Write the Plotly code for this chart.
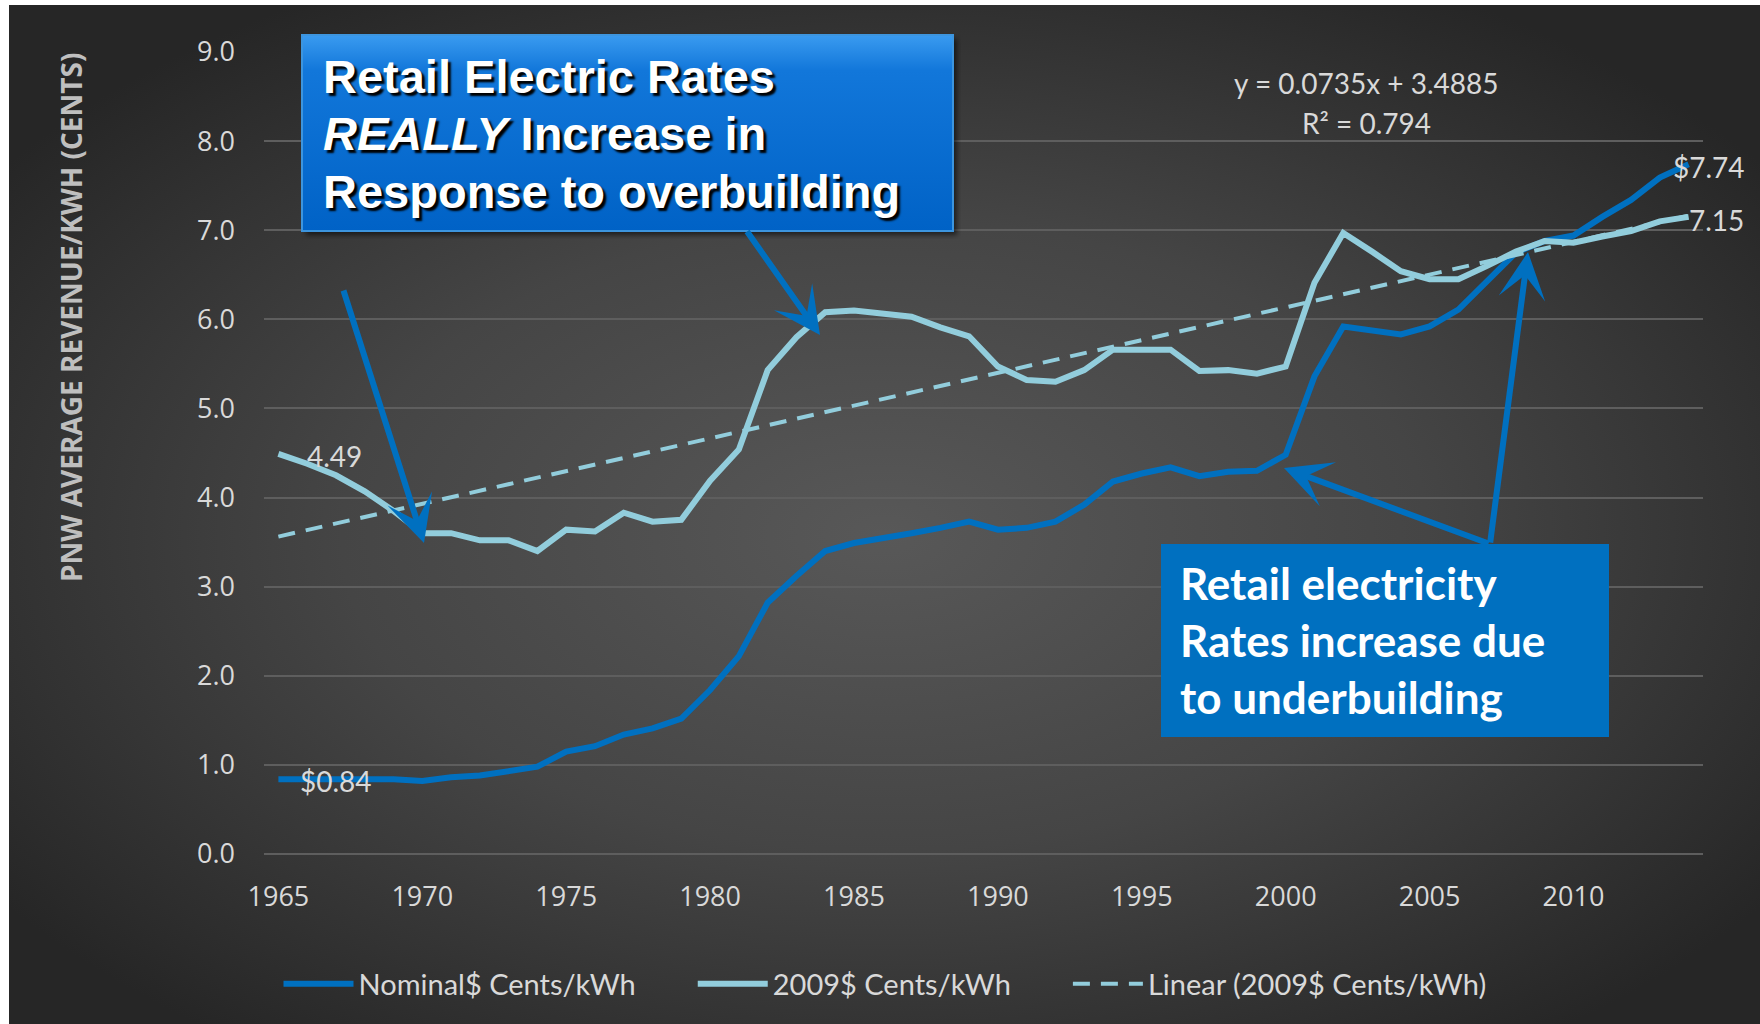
import base64
import plotly.graph_objects as go

# ---------------- data ----------------
YEARS = list(range(1965, 2015))
NOMINAL = [0.84, 0.84, 0.84, 0.84, 0.84, 0.82, 0.86, 0.88, 0.93, 0.98,
           1.15, 1.21, 1.34, 1.41, 1.52, 1.84, 2.22, 2.82, 3.12, 3.40,
           3.49, 3.54, 3.60, 3.66, 3.73, 3.64, 3.66, 3.73, 3.92, 4.18,
           4.27, 4.34, 4.24, 4.29, 4.30, 4.48, 5.36, 5.92, 5.88, 5.83,
           5.92, 6.11, 6.43, 6.75, 6.88, 6.94, 7.15, 7.34, 7.59, 7.74]
REAL_2009 = [4.49, 4.38, 4.25, 4.07, 3.85, 3.60, 3.60, 3.52, 3.52, 3.40,
             3.64, 3.62, 3.83, 3.73, 3.75, 4.19, 4.54, 5.43, 5.80, 6.08,
             6.10, 6.07, 6.03, 5.91, 5.81, 5.47, 5.32, 5.30, 5.43, 5.66,
             5.66, 5.66, 5.42, 5.43, 5.39, 5.47, 6.41, 6.97, 6.76, 6.54,
             6.45, 6.45, 6.60, 6.76, 6.88, 6.86, 6.93, 6.99, 7.10, 7.15]
TREND_SLOPE = 0.0735
TREND_INTERCEPT = 3.4885
TREND_R2 = 0.794
SERIES_NAMES = ["Nominal$ Cents/kWh", "2009$ Cents/kWh", "Linear (2009$ Cents/kWh)"]
Y_TICKS = [0, 1, 2, 3, 4, 5, 6, 7, 8, 9]
X_TICKS = [1965, 1970, 1975, 1980, 1985, 1990, 1995, 2000, 2005, 2010]
Y_TITLE = "PNW AVERAGE REVENUE/KWH (CENTS)"
BOX1_LINES = ["Retail Electric Rates", "<i>REALLY</i> Increase in", "Response to overbuilding"]
BOX2_LINES = ["Retail electricity", "Rates increase due", "to underbuilding"]

# trendline drawn from the chart's own stated equation (x = 1..N)
trend_x = [YEARS[0], YEARS[-1]]
trend_y = [TREND_SLOPE * 1 + TREND_INTERCEPT, TREND_SLOPE * len(YEARS) + TREND_INTERCEPT]

# ---------------- layout geometry ----------------
W, H = 1760, 1024
ML, MR, MT, MB = 264, 57, 52, 170
PW = W - ML - MR
PH = H - MT - MB


def px(x):
    return (x - ML) / PW


def py(y):
    return (H - MB - y) / PH


def svg_uri(svg):
    return "data:image/svg+xml;base64," + base64.b64encode(svg.encode()).decode()


BLUE = "#0070C0"
AQUA = "#92CDDC"
TXT = "#D9D9D9"
LEGEND_PAD = "\u00a0" * 7  # visual spacing between legend entries

bg_svg = ('<svg xmlns="http://www.w3.org/2000/svg" width="1751" height="1019" viewBox="0 0 1751 1019" '
          'preserveAspectRatio="none"><defs><radialGradient id="g" cx="0.5" cy="0.52" r="0.62">'
          '<stop offset="0" stop-color="#585858"/><stop offset="0.5" stop-color="#454545"/>'
          '<stop offset="1" stop-color="#262626"/></radialGradient></defs>'
          '<rect width="1751" height="1019" fill="url(#g)"/></svg>')

box1_svg = ('<svg xmlns="http://www.w3.org/2000/svg" width="661" height="206" viewBox="0 0 661 206" '
            'preserveAspectRatio="none"><defs>'
            '<linearGradient id="b" x1="0" y1="0" x2="0" y2="1">'
            '<stop offset="0" stop-color="#3a9bf0"/><stop offset="0.18" stop-color="#1277da"/>'
            '<stop offset="1" stop-color="#0062c6"/></linearGradient>'
            '<filter id="s" x="-5%" y="-5%" width="110%" height="115%"><feGaussianBlur stdDeviation="2.5"/></filter>'
            '</defs>'
            '<rect x="6" y="6" width="651" height="196" fill="#000" opacity="0.55" filter="url(#s)"/>'
            '<rect x="2" y="2" width="651" height="196" fill="url(#b)" stroke="#3d95de" stroke-width="2"/>'
            '</svg>')

fig = go.Figure()

fig.add_trace(go.Scatter(x=YEARS, y=NOMINAL, mode="lines", name=SERIES_NAMES[0] + LEGEND_PAD,
                         line=dict(color=BLUE, width=6)))
fig.add_trace(go.Scatter(x=YEARS, y=REAL_2009, mode="lines", name=SERIES_NAMES[1] + LEGEND_PAD,
                         line=dict(color=AQUA, width=6)))
fig.add_trace(go.Scatter(x=trend_x, y=trend_y, mode="lines", name=SERIES_NAMES[2],
                         line=dict(color=AQUA, width=4, dash="17px,11px")))

annotations = []

# y-axis title
annotations.append(dict(text=Y_TITLE, xref="paper", yref="paper", x=px(71), y=py(318), textangle=-90,
                        showarrow=False, xanchor="center", yanchor="middle",
                        font=dict(family="Open Sans", size=28, color="#BFBFBF", weight=700)))

# trendline equation
annotations.append(dict(text=f"y = {TREND_SLOPE}x + {TREND_INTERCEPT}", xref="paper", yref="paper",
                        x=px(1366), y=py(83), showarrow=False, xanchor="center", yanchor="middle",
                        font=dict(family="Lato", size=28, color=TXT)))
annotations.append(dict(text=f"R² = {TREND_R2}", xref="paper", yref="paper",
                        x=px(1366), y=py(123), showarrow=False, xanchor="center", yanchor="middle",
                        font=dict(family="Lato", size=28, color=TXT)))

# data labels
lab_font = dict(family="Lato", size=28, color=TXT)
annotations.append(dict(text=f"{REAL_2009[0]:.2f}", x=YEARS[0], y=REAL_2009[0], xref="x", yref="y",
                        showarrow=False, xshift=56, yshift=-2, font=lab_font))
annotations.append(dict(text=f"${NOMINAL[0]:.2f}", x=YEARS[0], y=NOMINAL[0], xref="x", yref="y",
                        showarrow=False, xshift=58, yshift=-2, font=lab_font))
annotations.append(dict(text=f"${NOMINAL[-1]:.2f}", x=YEARS[-1], y=NOMINAL[-1], xref="x", yref="y",
                        showarrow=False, xshift=20, yshift=-3, font=lab_font))
annotations.append(dict(text=f"{REAL_2009[-1]:.2f}", x=YEARS[-1], y=REAL_2009[-1], xref="x", yref="y",
                        showarrow=False, xshift=28, yshift=-3, font=lab_font))

# box 1 text
for line, yc in zip(BOX1_LINES, [76, 134, 191]):
    annotations.append(dict(text=f"<b>{line}</b>", xref="paper", yref="paper", x=px(321), y=py(yc),
                            showarrow=False, xanchor="left", yanchor="middle",
                            font=dict(family="Liberation Sans", size=47, color="#FFFFFF",
                                      shadow="3px 3px 2px #000000")))

# box 2 text
for line, yc in zip(BOX2_LINES, [583, 640, 697]):
    annotations.append(dict(text=f"<b>{line}</b>", xref="paper", yref="paper", x=px(1178), y=py(yc),
                            showarrow=False, xanchor="left", yanchor="middle",
                            font=dict(family="Lato", size=44, color="#FFFFFF")))

# arrows (tail -> tip, in pixel positions)
ARROWS = [((343, 289), (424, 543)),
          ((746, 230), (820, 335)),
          ((1490, 544), (1284, 468)),
          ((1490, 544), (1528, 252))]
for (tx, ty), (hx, hy) in ARROWS:
    annotations.append(dict(text="", xref="paper", yref="paper", x=px(hx), y=py(hy),
                            axref="pixel", ayref="pixel", ax=tx - hx, ay=ty - hy,
                            showarrow=True, arrowhead=3, arrowsize=1.3, arrowwidth=6,
                            arrowcolor=BLUE, standoff=0))

fig.update_layout(
    width=W, height=H,
    margin=dict(l=ML, r=MR, t=MT, b=MB, pad=0),
    paper_bgcolor="#FFFFFF",
    plot_bgcolor="rgba(0,0,0,0)",
    showlegend=True,
    legend=dict(orientation="h", x=px(885), xanchor="center", y=py(984), yanchor="middle",
                font=dict(family="Lato", size=29, color=TXT), bgcolor="rgba(0,0,0,0)",
                itemwidth=70, tracegroupgap=0),
    xaxis=dict(range=[1964.5, 2014.5], tickvals=X_TICKS, showgrid=False, zeroline=False,
               showline=False, ticks="", ticklabelstandoff=24,
               tickfont=dict(family="Open Sans", size=27, color=TXT)),
    yaxis=dict(range=[0, 9], tickvals=Y_TICKS, tickformat=".1f", showgrid=True,
               gridcolor="#5E5E5E", gridwidth=1.5, zeroline=True, zerolinecolor="#5E5E5E",
               zerolinewidth=1.5, showline=False, ticks="", ticklabelstandoff=28,
               tickfont=dict(family="Open Sans", size=27, color=TXT)),
    images=[
        dict(source=svg_uri(bg_svg), xref="paper", yref="paper", x=px(9), y=py(5),
             sizex=(W - 9) / PW, sizey=(H - 5) / PH, xanchor="left", yanchor="top",
             sizing="stretch", layer="below"),
        dict(source=svg_uri(box1_svg), xref="paper", yref="paper", x=px(300), y=py(33),
             sizex=661 / PW, sizey=206 / PH, xanchor="left", yanchor="top",
             sizing="stretch", layer="above"),
    ],
    shapes=[dict(type="rect", xref="paper", yref="paper", x0=px(1161), x1=px(1609),
                 y0=py(737), y1=py(544), fillcolor=BLUE, line=dict(width=0), layer="above")],
    annotations=annotations,
)

fig.write_html("out.html")
